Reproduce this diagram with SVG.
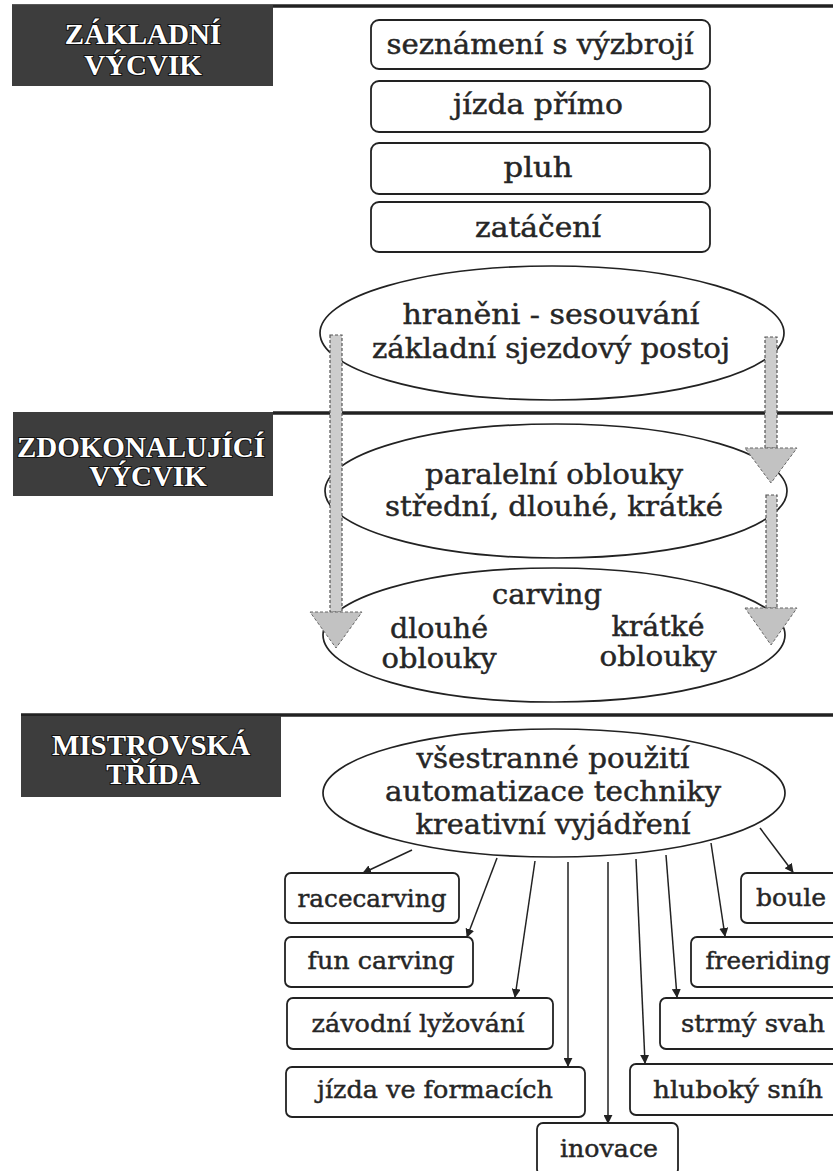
<svg xmlns="http://www.w3.org/2000/svg" width="833" height="1171" viewBox="0 0 833 1171">
<defs>
<style>
.t{font-family:"DejaVu Serif","Liberation Serif",serif;fill:#262626;stroke:#262626;stroke-width:0.45;text-anchor:middle}
.tb{font-size:27px}
.ts{font-size:25px}
.h{font-family:"Liberation Serif","DejaVu Serif",serif;font-weight:bold;font-size:29px;fill:#fff;stroke:#111;stroke-width:2;paint-order:stroke;text-anchor:middle}
.hb{fill:#3d3d3d}
.box{fill:#fff;stroke:#222;stroke-width:1.8}
.ell{fill:#fff;stroke:#222;stroke-width:1.7}
.sep{stroke:#222;stroke-width:3.5}
.con{stroke:#222;stroke-width:1.5;fill:none;marker-end:url(#ah)}
.shaft{fill:#cdcdcd;stroke:#555;stroke-width:1.2;stroke-dasharray:3 2}
.head{fill:#c2c2c2;stroke:#666;stroke-width:1;stroke-dasharray:3 2}
</style>
<marker id="ah" viewBox="0 0 10 10" refX="9" refY="5" markerWidth="9" markerHeight="9" markerUnits="userSpaceOnUse" orient="auto">
<path d="M0,0 L10,5 L0,10 z" fill="#222"/>
</marker>
</defs>
<rect width="833" height="1171" fill="#fff"/>

<g id="separators">
<line class="sep" x1="12" y1="6" x2="833" y2="6"/>
<line class="sep" x1="273" y1="413" x2="833" y2="413"/>
<line class="sep" x1="21" y1="715" x2="833" y2="715"/>
</g>

<g id="header-zakladni">
<rect class="hb" x="12" y="5" width="261" height="81"/>
<text class="h" x="143" y="44">ZÁKLADNÍ</text>
<text class="h" x="143" y="75">VÝCVIK</text>
</g>
<g id="header-zdokonalujici">
<rect class="hb" x="13" y="412" width="260" height="84"/>
<text class="h" x="141" y="457">ZDOKONALUJÍCÍ</text>
<text class="h" x="148" y="486">VÝCVIK</text>
</g>
<g id="header-mistrovska">
<rect class="hb" x="21" y="716" width="260" height="81"/>
<text class="h" x="151" y="755">MISTROVSKÁ</text>
<text class="h" x="153" y="784">TŘÍDA</text>
</g>

<g id="n-seznameni">
<rect class="box" x="371" y="20" width="339" height="49" rx="8"/>
<text class="t tb" x="540" y="54" textLength="307" lengthAdjust="spacingAndGlyphs">seznámení s výzbrojí</text>
</g>
<g id="n-jizda-primo">
<rect class="box" x="371" y="81" width="339" height="51" rx="8"/>
<text class="t tb" x="538" y="114" textLength="170" lengthAdjust="spacingAndGlyphs">jízda přímo</text>
</g>
<g id="n-pluh">
<rect class="box" x="371" y="143" width="339" height="51" rx="8"/>
<text class="t tb" x="538" y="177" textLength="69" lengthAdjust="spacingAndGlyphs">pluh</text>
</g>
<g id="n-zataceni">
<rect class="box" x="371" y="202" width="339" height="50" rx="8"/>
<text class="t tb" x="538" y="237" textLength="126" lengthAdjust="spacingAndGlyphs">zatáčení</text>
</g>

<g id="n-hraneni">
<ellipse class="ell" cx="552" cy="333" rx="232" ry="67"/>
<text class="t tb" x="551" y="324" textLength="297" lengthAdjust="spacingAndGlyphs">hraněni - sesouvání</text>
<text class="t tb" x="551" y="358" textLength="358" lengthAdjust="spacingAndGlyphs">základní sjezdový postoj</text>
</g>
<g id="n-paralelni">
<ellipse class="ell" cx="556" cy="491" rx="231" ry="67"/>
<text class="t tb" x="554" y="484" textLength="258" lengthAdjust="spacingAndGlyphs">paralelní oblouky</text>
<text class="t tb" x="554" y="516" textLength="338" lengthAdjust="spacingAndGlyphs">střední, dlouhé, krátké</text>
</g>
<g id="n-carving">
<ellipse class="ell" cx="554" cy="635" rx="231" ry="67"/>
<text class="t tb" x="547" y="604" textLength="110" lengthAdjust="spacingAndGlyphs">carving</text>
<text class="t tb" x="439" y="638" textLength="98" lengthAdjust="spacingAndGlyphs">dlouhé</text>
<text class="t tb" x="439" y="668" textLength="115" lengthAdjust="spacingAndGlyphs">oblouky</text>
<text class="t tb" x="658" y="636" textLength="93" lengthAdjust="spacingAndGlyphs">krátké</text>
<text class="t tb" x="658" y="666" textLength="117" lengthAdjust="spacingAndGlyphs">oblouky</text>
</g>
<g id="n-vsestranne">
<ellipse class="ell" cx="554" cy="793" rx="231" ry="64"/>
<text class="t tb" x="553" y="768" textLength="273" lengthAdjust="spacingAndGlyphs">všestranné použití</text>
<text class="t tb" x="553" y="801" textLength="336" lengthAdjust="spacingAndGlyphs">automatizace techniky</text>
<text class="t tb" x="553" y="834" textLength="275" lengthAdjust="spacingAndGlyphs">kreativní vyjádření</text>
</g>

<g id="n-racecarving">
<rect class="box" x="285" y="873" width="174" height="50" rx="6"/>
<text class="t ts" x="372" y="907" textLength="149" lengthAdjust="spacingAndGlyphs">racecarving</text>
</g>
<g id="n-fun-carving">
<rect class="box" x="285" y="937" width="188" height="50" rx="6"/>
<text class="t ts" x="381" y="969" textLength="147" lengthAdjust="spacingAndGlyphs">fun carving</text>
</g>
<g id="n-zavodni">
<rect class="box" x="287" y="998" width="266" height="51" rx="6"/>
<text class="t ts" x="418" y="1032" textLength="213" lengthAdjust="spacingAndGlyphs">závodní lyžování</text>
</g>
<g id="n-formace">
<rect class="box" x="286" y="1067" width="299" height="50" rx="6"/>
<text class="t ts" x="435" y="1098" textLength="236" lengthAdjust="spacingAndGlyphs">jízda ve formacích</text>
</g>
<g id="n-inovace">
<rect class="box" x="537" y="1123" width="141" height="52" rx="6"/>
<text class="t ts" x="609" y="1157" textLength="98" lengthAdjust="spacingAndGlyphs">inovace</text>
</g>
<g id="n-hluboky">
<rect class="box" x="630" y="1064" width="210" height="51" rx="6"/>
<text class="t ts" x="738" y="1098" textLength="170" lengthAdjust="spacingAndGlyphs">hluboký sníh</text>
</g>
<g id="n-strmy">
<rect class="box" x="660" y="998" width="180" height="51" rx="6"/>
<text class="t ts" x="753" y="1032" textLength="144" lengthAdjust="spacingAndGlyphs">strmý svah</text>
</g>
<g id="n-freeriding">
<rect class="box" x="691" y="937" width="149" height="50" rx="6"/>
<text class="t ts" x="768" y="969" textLength="125" lengthAdjust="spacingAndGlyphs">freeriding</text>
</g>
<g id="n-boule">
<rect class="box" x="741" y="873" width="99" height="50" rx="6"/>
<text class="t ts" x="791" y="906" textLength="70" lengthAdjust="spacingAndGlyphs">boule</text>
</g>

<g id="connectors">
<rect class="shaft" x="330" y="335" width="12" height="277"/>
<polygon class="head" points="310,612 362,612 336,648"/>
<rect class="shaft" x="765" y="337" width="12" height="111"/>
<polygon class="head" points="745,448 797,448 771,483"/>
<rect class="shaft" x="766" y="495" width="11" height="113"/>
<polygon class="head" points="745,608 797,608 771,645"/>

<line class="con" x1="412" y1="850" x2="363" y2="873"/>
<line class="con" x1="497" y1="858" x2="467" y2="937"/>
<line class="con" x1="535" y1="861" x2="515" y2="997"/>
<line class="con" x1="568" y1="862" x2="568" y2="1066"/>
<line class="con" x1="608" y1="862" x2="608" y2="1123"/>
<line class="con" x1="636" y1="859" x2="645" y2="1063"/>
<line class="con" x1="666" y1="855" x2="677" y2="997"/>
<line class="con" x1="711" y1="843" x2="725" y2="936"/>
<line class="con" x1="760" y1="828" x2="793" y2="872"/>
</g>
</svg>
